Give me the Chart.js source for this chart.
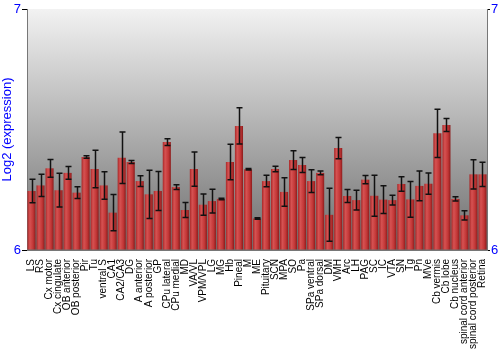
<!DOCTYPE html>
<html>
<head>
<meta charset="utf-8">
<script src="https://cdn.jsdelivr.net/npm/chart.js@4/dist/chart.umd.min.js"></script>
<style>
  html, body { margin: 0; padding: 0; background: #fff; }
  #wrap { width: 500px; height: 350px; }
</style>
</head>
<body>
<div id="wrap"><canvas id="myChart" width="500" height="350"></canvas></div>
<script>
// tissue names along the x axis
const tissues = ['LS', 'RS', 'Cx motor', 'Cx cingulate', 'OB anterior', 'OB posterior', 'Pir', 'Tu', 'ventral S', 'CA1',
    'CA2/CA3', 'DG', 'A anterior', 'A posterior', 'GP', 'CPu lateral', 'CPu medial', 'MD', 'VA/VL', 'VPM/VPL',
    'LG', 'MG', 'Hb', 'Pineal', 'M', 'ME', 'Pituitary', 'SCN', 'MPA', 'SO',
    'Pa', 'SPa ventral', 'SPa dorsal', 'DM', 'VMH', 'Arc', 'LH', 'PAG', 'SC', 'IC',
    'VTA', 'SN', 'Tg', 'Pn', 'MVe', 'Cb vermis', 'Cb lobe', 'Cb nucleus', 'spinal cord anterior', 'spinal cord posterior', 'Retina'];

// mean log2 expression
const expression = [6.245, 6.268, 6.339, 6.248, 6.32, 6.238, 6.386, 6.336, 6.268, 6.155,
    6.383, 6.365, 6.286, 6.231, 6.245, 6.448, 6.261, 6.166, 6.336, 6.188,
    6.203, 6.212, 6.365, 6.515, 6.335, 6.131, 6.286, 6.336, 6.241, 6.373,
    6.353, 6.286, 6.32, 6.146, 6.423, 6.224, 6.207, 6.292, 6.225, 6.209,
    6.207, 6.274, 6.21, 6.266, 6.275, 6.484, 6.519, 6.212, 6.144, 6.314, 6.314];

// error bar half size
const errors = [0.049, 0.046, 0.037, 0.07, 0.026, 0.024, 0.005, 0.078, 0.057, 0.075,
    0.107, 0.006, 0.022, 0.10, 0.081, 0.014, 0.01, 0.031, 0.071, 0.044,
    0.049, 0.003, 0.074, 0.075, 0.003, 0.003, 0.024, 0.011, 0.059, 0.039,
    0.031, 0.047, 0.008, 0.11, 0.044, 0.027, 0.041, 0.017, 0.085, 0.058,
    0.02, 0.03, 0.074, 0.062, 0.044, 0.1, 0.027, 0.009, 0.019, 0.061, 0.05];

const yTicks = [6, 7];

const bgPlugin = {
    id: 'bgPlugin',
    beforeDraw(chart) {
        const { ctx, chartArea } = chart;
        const g = ctx.createLinearGradient(0, chartArea.top, 0, chartArea.bottom);
        g.addColorStop(0, '#f2f2f2');
        g.addColorStop(1, '#6e6e6e');
        ctx.save();
        ctx.fillStyle = g;
        ctx.fillRect(chartArea.left, chartArea.top, chartArea.right - chartArea.left, chartArea.bottom - chartArea.top);
        ctx.restore();
    }
};

const errorBarPlugin = {
    id: 'errorBarPlugin',
    afterDatasetsDraw(chart) {
        const ctx = chart.ctx;
        const xs = chart.scales.x;
        const ys = chart.scales.y;
        ctx.save();
        ctx.strokeStyle = '#111';
        ctx.lineWidth = 1.5;
        for (let i = 0; i < expression.length; i++) {
            const x = Math.round(xs.getPixelForValue(i)) + 0.5;
            const yTop = ys.getPixelForValue(expression[i] + errors[i]);
            const yBot = ys.getPixelForValue(expression[i] - errors[i]);
            ctx.beginPath();
            ctx.moveTo(x, yTop);
            ctx.lineTo(x, yBot);
            ctx.moveTo(x - 3, yTop);
            ctx.lineTo(x + 3, yTop);
            ctx.moveTo(x - 3, yBot);
            ctx.lineTo(x + 3, yBot);
            ctx.stroke();
        }
        ctx.restore();
    }
};

function barColor(context) {
    const chart = context.chart;
    const xs = chart.scales.x;
    if (!xs || context.dataIndex === undefined || !chart.chartArea) {
        return '#c43434';
    }
    const cx = xs.getPixelForValue(context.dataIndex);
    const w = (xs.right - xs.left) / tissues.length * 0.9;
    const g = chart.ctx.createLinearGradient(cx - w / 2, 0, cx + w / 2, 0);
    g.addColorStop(0, '#a82828');
    g.addColorStop(0.3, '#d65252');
    g.addColorStop(0.7, '#c23636');
    g.addColorStop(1, '#8c1c1c');
    return g;
}

const tickFont = { family: 'Liberation Sans', size: 10 };

new Chart(document.getElementById('myChart'), {
    type: 'bar',
    data: {
        labels: tissues,
        datasets: [{
            data: expression,
            base: 6,
            backgroundColor: barColor,
            borderWidth: 0,
            barPercentage: 0.9,
            categoryPercentage: 1.0
        }]
    },
    options: {
        responsive: false,
        animation: false,
        layout: { padding: { top: 9, left: 0, right: 0, bottom: 0 } },
        plugins: {
            legend: { display: false },
            tooltip: { enabled: false }
        },
        scales: {
            x: {
                grid: { display: false },
                border: { display: true, color: '#777' },
                ticks: {
                    color: '#000',
                    font: tickFont,
                    autoSkip: false,
                    minRotation: 90,
                    maxRotation: 90,
                    padding: 1
                },
                afterFit(scale) { scale.height = 100; }
            },
            y: {
                min: 6,
                max: 7,
                position: 'left',
                afterBuildTicks(scale) { scale.ticks = yTicks.map(v => ({ value: v })); },
                grid: { drawOnChartArea: false, color: '#000', tickLength: 5 },
                border: { display: true, color: '#777' },
                ticks: { color: '#0000ff', font: { family: 'Liberation Sans', size: 13 }, padding: 1 },
                title: {
                    display: true,
                    text: 'Log2 (expression)',
                    color: '#0000ff',
                    font: { family: 'Liberation Sans', size: 13 },
                    padding: 0
                },
                afterFit(scale) { scale.width = 27; }
            },
            y2: {
                min: 6,
                max: 7,
                position: 'right',
                afterBuildTicks(scale) { scale.ticks = yTicks.map(v => ({ value: v })); },
                grid: { drawOnChartArea: false, color: '#000', tickLength: 3 },
                border: { display: true, color: '#777' },
                ticks: { color: '#0000ff', font: { family: 'Liberation Sans', size: 13 }, padding: 1 },
                afterFit(scale) { scale.width = 13; }
            }
        }
    },
    plugins: [bgPlugin, errorBarPlugin]
});
</script>
</body>
</html>
